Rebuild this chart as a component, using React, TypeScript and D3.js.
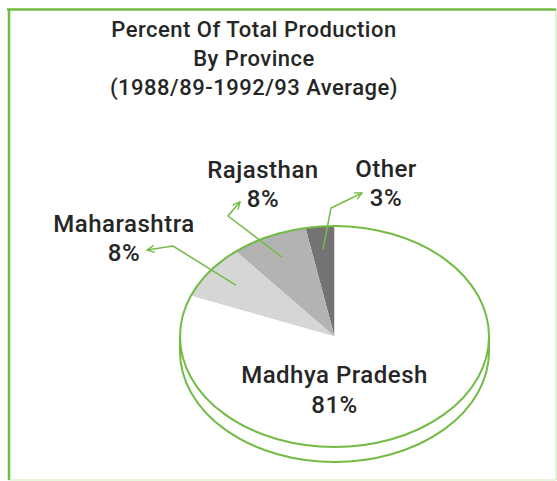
import React from "react";
import * as d3 from "d3";

const categories = ["Other", "Rajasthan", "Maharashtra", "Madhya Pradesh"];
const values = [3, 8, 8, 81];
const labels = ["3%", "8%", "8%", "81%"];
const titleLines = ["Percent Of Total Production", "By Province", "(1988/89-1992/93 Average)"];

const colors = ["#737373", "#b3b3b3", "#d6d6d6", "#ffffff"];
// label layout: [label center x, first baseline y, elbow x, elbow y, tip x, tip y] (null = no leader)
const labelLayout: (number[] | null)[] = [
  [386, 177, 331, 208, 362, 193],
  [263, 178, 228, 216, 240, 202],
  [124, 232, 173, 246, 147, 250],
  null,
];

const W = 557, H = 481;
const cx = 334.5, cy = 336.5, rx = 154.5, ry = 110.5, depth = 15;
const green = "#72bb45";

function pt(a: number, k = 1): [number, number] {
  return [cx + rx * k * Math.sin(a), cy - ry * k * Math.cos(a)];
}

export default function App() {
  const pie = d3.pie<number>().sort(null).startAngle(0).endAngle(-2 * Math.PI)(values);

  const slicePath = (s: d3.PieArcDatum<number>) => {
    const a0 = s.startAngle, a1 = s.endAngle;
    const p0 = pt(a0), p1 = pt(a1);
    const large = Math.abs(a1 - a0) > Math.PI ? 1 : 0;
    const sweep = a1 > a0 ? 1 : 0;
    const p = d3.path();
    p.moveTo(cx, cy);
    p.lineTo(p0[0], p0[1]);
    return p.toString() + ` A${rx},${ry} 0 ${large} ${sweep} ${p1[0]},${p1[1]} Z`;
  };

  const lblProps = { textAnchor: "middle" as const, fontSize: 24, fontWeight: 500, fill: "#262626", letterSpacing: 0.5 };

  return (
    <svg width={W} height={H} style={{ position: "absolute", left: 0, top: 0 }} fontFamily="Roboto, sans-serif">
      <defs>
        <marker id="arr" viewBox="0 0 10 10" refX="9" refY="5" markerWidth="9" markerHeight="9" orient="auto" markerUnits="userSpaceOnUse">
          <path d="M1,1 L9,5 L1,9" fill="none" stroke={green} strokeWidth={1.5} />
        </marker>
      </defs>
      <rect x={0} y={0} width={W} height={H} fill="#fff" />
      {/* frame */}
      <line x1={556} y1={9} x2={556} y2={480} stroke="#c5e3b0" strokeWidth={1} />
      <line x1={8} y1={480} x2={556} y2={480} stroke="#dff0d3" strokeWidth={1.5} />
      <line x1={7} y1={9.5} x2={556} y2={9.5} stroke={green} strokeWidth={2.5} />
      <line x1={9} y1={9} x2={9} y2={480} stroke={green} strokeWidth={2.5} />

      {titleLines.map((t, i) => (
        <text key={i} x={254} y={37 + i * 29} textAnchor="middle" fontSize={22} fontWeight={500} letterSpacing={0.5} fill="#262626">{t}</text>
      ))}

      {/* 3D side */}
      <path
        d={`M${cx - rx},${cy} L${cx - rx},${cy + depth} A${rx},${ry} 0 0 0 ${cx + rx},${cy + depth} L${cx + rx},${cy} A${rx},${ry} 0 0 1 ${cx - rx},${cy} Z`}
        fill="#fff"
        stroke="none"
      />
      <path
        d={`M${cx - rx},${cy} L${cx - rx},${cy + depth} A${rx},${ry} 0 0 0 ${cx + rx},${cy + depth} L${cx + rx},${cy}`}
        fill="none"
        stroke={green}
        strokeWidth={2}
      />
      {pie.map((s, i) => (
        <path key={categories[i]} d={slicePath(s)} fill={colors[i]} stroke="none" />
      ))}
      <ellipse cx={cx} cy={cy} rx={rx} ry={ry} fill="none" stroke={green} strokeWidth={2} />

      {pie.map((s, i) => {
        const L = labelLayout[i];
        const mid = (s.startAngle + s.endAngle) / 2;
        if (!L) {
          return (
            <g key={i}>
              <text x={cx} y={383} {...lblProps}>{categories[i]}</text>
              <text x={cx} y={413} {...lblProps}>{labels[i]}</text>
            </g>
          );
        }
        const [sx, sy] = pt(mid, 0.79);
        return (
          <g key={i}>
            <polyline points={`${sx},${sy} ${L[2]},${L[3]} ${L[4]},${L[5]}`} fill="none" stroke={green} strokeWidth={1.5} markerEnd="url(#arr)" />
            <text x={L[0]} y={L[1]} {...lblProps}>{categories[i]}</text>
            <text x={L[0]} y={L[1] + 29} {...lblProps}>{labels[i]}</text>
          </g>
        );
      })}
    </svg>
  );
}
